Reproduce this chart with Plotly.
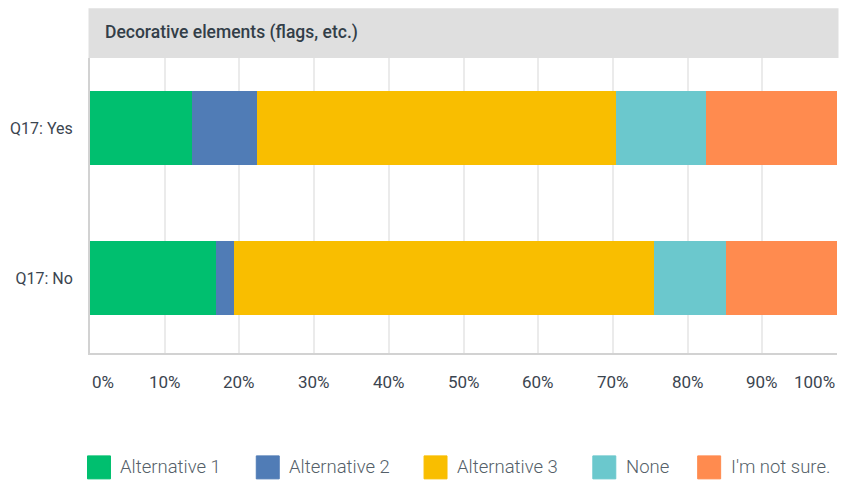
import plotly.graph_objects as go

categories = ["Q17: Yes", "Q17: No"]
series_names = ["Alternative 1", "Alternative 2", "Alternative 3", "None", "I'm not sure."]
alt1 = [13.7, 16.9]
alt2 = [8.7, 2.4]
alt3 = [48.0, 56.2]
none_vals = [12.0, 9.6]
not_sure = [17.6, 14.9]
series_values = [alt1, alt2, alt3, none_vals, not_sure]
colors = ["#00bf6f", "#507cb6", "#f9be00", "#6bc8cd", "#ff8b4f"]
tick_vals = [0, 10, 20, 30, 40, 50, 60, 70, 80, 90, 100]
tick_text = ["0%", "10%", "20%", "30%", "40%", "50%", "60%", "70%", "80%", "90%", "100%"]
title_text = "Decorative elements (flags, etc.)"

W, H = 841, 482
PX0, PX1 = 89.5, 837.5   # plot area in screen pixels
PY0, PY1 = 57.7, 353.0
ML, MR = PX0, (W - PX1)
MT, MB = PY0, (H - PY1)
PW = PX1 - PX0
PH = PY1 - PY0

def px_x(px):
    return (px - PX0) / PW

def px_y(py):
    return 1 - (py - PY0) / PH

FONT = "Roboto"

fig = go.Figure()
for name, vals, col in zip(series_names, series_values, colors):
    fig.add_trace(go.Bar(
        y=categories, x=vals, name=name, orientation="h",
        marker=dict(color=col, line=dict(width=0)),
        width=0.493, showlegend=False,
        hovertemplate="%{y}: %{x}%<extra>" + name + "</extra>",
    ))

shapes = []
annotations = []
# header band
shapes.append(dict(type="rect", xref="paper", yref="paper",
                   x0=px_x(88), x1=px_x(839), y0=px_y(57.7), y1=px_y(8),
                   fillcolor="#dfdfdf", line=dict(width=0), layer="below"))
annotations.append(dict(text=title_text, xref="paper", yref="paper",
                        x=px_x(103), y=px_y(32), xanchor="left", yanchor="middle",
                        showarrow=False,
                        font=dict(family=FONT, size=17.5, color="#333e48", weight=500)))

# x tick labels as annotations (edge labels clamped inside like reference)
for i, (v, t) in enumerate(zip(tick_vals, tick_text)):
    if i == 0:
        xa = "left"
    elif i == len(tick_vals) - 1:
        xa = "right"
    else:
        xa = "center"
    annotations.append(dict(text=t, xref="x", yref="paper", x=v, y=px_y(382),
                            xanchor=xa, yanchor="middle", showarrow=False,
                            font=dict(family=FONT, size=17, color="#3b4550")))

# legend drawn manually
sq_left = [87, 256, 424, 593, 698]
for name, col, lx in zip(series_names, colors, sq_left):
    x0, x1 = px_x(lx), px_x(lx + 23)
    y0, y1 = px_y(479), px_y(456)
    shapes.append(dict(type="rect", xref="paper", yref="paper",
                       x0=x0, x1=x1, y0=y0, y1=y1,
                       fillcolor=col, line=dict(width=1, color=col)))
    annotations.append(dict(text=name, xref="paper", yref="paper",
                            x=px_x(lx + 31), y=px_y(467.5), xanchor="left",
                            yanchor="middle", showarrow=False,
                            font=dict(family=FONT, size=18.5, color="#555f69",
                                      weight=300)))

fig.update_layout(
    width=W, height=H,
    margin=dict(l=ML, r=MR, t=MT, b=MB, pad=0),
    barmode="stack", bargap=0,
    plot_bgcolor="white", paper_bgcolor="white",
    font=dict(family=FONT, size=15, color="#333e48"),
    shapes=shapes, annotations=annotations,
    xaxis=dict(range=[0, 100], tickvals=tick_vals, ticktext=tick_text,
               showticklabels=False, showgrid=True, gridcolor="#ebebeb",
               gridwidth=1.5, zeroline=False, showline=True,
               linecolor="#d2d2d2", linewidth=2, fixedrange=True),
    yaxis=dict(range=[1.5, -0.47], showgrid=False, zeroline=False,
               showline=True, linecolor="#d2d2d2", linewidth=2,
               ticks="", ticklabelstandoff=12,
               tickfont=dict(family=FONT, size=16, color="#3b4550"),
               fixedrange=True),
    showlegend=False,
)

fig.write_html("out.html",
               config={"displayModeBar": False},
               post_script="document.body.style.margin='0px';document.body.style.overflow='hidden';")
